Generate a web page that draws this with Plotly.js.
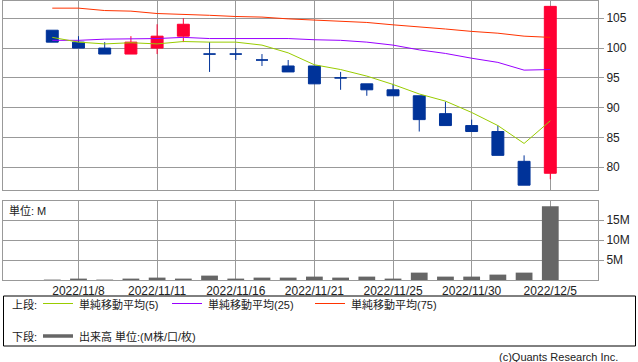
<!DOCTYPE html>
<html><head><meta charset="utf-8">
<script src="https://cdn.plot.ly/plotly-3.0.1.min.js"></script>
<style>html,body{margin:0;padding:0;background:#fff;}#chart{width:638px;height:362px;}</style>
</head><body><div id="chart"></div>
<script>
const dates = ['2022/11/7','2022/11/8','2022/11/9','2022/11/10','2022/11/11','2022/11/14','2022/11/15','2022/11/16','2022/11/17','2022/11/18','2022/11/21','2022/11/22','2022/11/24','2022/11/25','2022/11/28','2022/11/29','2022/11/30','2022/12/1','2022/12/2','2022/12/5'];
const openP  = [103,101,100, 99,100,102, 99, 99, 98, 97, 97, 95, 94, 93, 92, 89, 87, 86, 81, 79];
const highP  = [103,102,101,102,104,105,101,100, 99, 98, 97, 96, 94, 94, 92, 91, 88, 87, 82,107];
const lowP   = [101,100, 99, 99, 99,101, 96, 98, 97, 96, 94, 93, 92, 92, 86, 87, 86, 82, 77, 78];
const closeP = [101,100, 99,101,102,104, 99, 99, 98, 96, 94, 95, 93, 92, 88, 87, 86, 82, 77,107];
const ma5  = [101.8,101.0,100.7,100.9,100.7,101.1,101.0,101.0,100.5,99.2,97.2,96.4,95.3,93.9,92.3,91.1,89.2,87.0,84.0,87.8];
const ma25 = [101.3,101.3,101.5,101.5,101.6,101.8,101.6,101.6,101.6,101.6,101.4,101.3,101.0,100.5,99.7,99.1,98.3,97.6,96.3,96.4];
const ma75 = [106.7,106.7,106.3,106.2,105.8,105.7,105.5,105.3,105.2,104.9,104.7,104.5,104.3,103.9,103.6,103.2,102.8,102.5,102.0,101.8];
const volM = [0.1,0.35,0.1,0.35,0.6,0.35,1.1,0.35,0.6,0.6,0.85,0.6,0.85,0.35,1.85,0.85,0.85,1.35,1.85,18.5];
const labelDates = ['2022/11/8','2022/11/11','2022/11/16','2022/11/21','2022/11/25','2022/11/30','2022/12/5'];
const priceTicks = [80,85,90,95,100,105];
const volTicks = [5,10,15];
const volTickText = ['5M','10M','15M'];
const legendTop = ['単純移動平均(5)','単純移動平均(25)','単純移動平均(75)'];
const maColors = ['#99cc00','#9900ff','#ff3300'];

const W=638,H=362,L=3,R=40,T=1,B=82;
const px = x => (x-L)/(W-L-R);
const py = y => (H-B-y)/(H-T-B);
const grid = '#999999';
const FONT = 'Liberation Sans, Noto Sans CJK JP, sans-serif';

// split candles: up (close > open) in red, others (down / doji) in blue
function pick(arr, up){ return arr.map((v,i)=> ((closeP[i]>openP[i])===up) ? v : null); }
function candle(up, color){
  return {type:'candlestick', x:dates, open:pick(openP,up), high:pick(highP,up), low:pick(lowP,up), close:pick(closeP,up),
    xaxis:'x', yaxis:'y', whiskerwidth:0, hoverinfo:'skip',
    increasing:{line:{color:color,width:1}, fillcolor:color},
    decreasing:{line:{color:color,width:1}, fillcolor:color}};
}

const traces = [
  candle(true,'#ff0033'),
  candle(false,'#003399'),
  {type:'scatter', mode:'lines', x:dates, y:ma75, xaxis:'x', yaxis:'y', line:{color:maColors[2],width:1}},
  {type:'scatter', mode:'lines', x:dates, y:ma25, xaxis:'x', yaxis:'y', line:{color:maColors[1],width:1}},
  {type:'scatter', mode:'lines', x:dates, y:ma5, xaxis:'x', yaxis:'y', line:{color:maColors[0],width:1}},
  {type:'bar', x:dates, y:volM, xaxis:'x2', yaxis:'y2', width:0.64, marker:{color:'#666666', line:{width:0}}}
];

const xr = [-1.88, 20.82];
const baseX = {type:'category', range:xr, tickvals:labelDates, showgrid:true, gridcolor:grid, gridwidth:1,
  showline:true, linecolor:grid, linewidth:1, mirror:true, ticks:'', zeroline:false, fixedrange:true};
const baseY = {side:'right', showgrid:true, gridcolor:grid, gridwidth:1, showline:true, linecolor:grid, linewidth:1,
  mirror:true, ticks:'outside', ticklen:5, tickcolor:grid, zeroline:false, fixedrange:true,
  tickfont:{family:FONT,size:12,color:'#222'}};

const shapes = [
  {type:'rect', xref:'paper', yref:'paper', x0:px(3.5), x1:px(635.5), y0:py(296), y1:py(346), line:{color:'#000',width:1}},
];
const annotations = [];
function ann(text,x,y,anchor,size){
  annotations.push({text:text, xref:'paper', yref:'paper', x:px(x), y:py(y), xanchor:anchor||'left', yanchor:'middle',
    showarrow:false, borderpad:0, font:{family:FONT, size:size||11, color:'#222'}});
}
const lx = [[43,73,78],[172,202,207],[315,345,350]];
lx.forEach((p,i)=>{
  shapes.push({type:'line', xref:'paper', yref:'paper', x0:px(p[0]), x1:px(p[1]), y0:py(303.5), y1:py(303.5), line:{color:maColors[i],width:1}});
  ann(legendTop[i], p[2], 304);
});
shapes.push({type:'line', xref:'paper', yref:'paper', x0:px(43), x1:px(73), y0:py(336), y1:py(336), line:{color:'#666666',width:3.5}});
ann('上段:', 11, 304);
ann('下段:', 11, 336);
ann('出来高 単位:(M株/口/枚)', 78, 336);
ann('単位: M', 8, 210);
ann('(c)Quants Research Inc.', 619, 357, 'right', 11);

const layout = {
  width:W, height:H, margin:{l:L,r:R,t:T,b:B}, paper_bgcolor:'#fff', plot_bgcolor:'#fff',
  showlegend:false, font:{family:FONT,size:12,color:'#222'}, boxgap:0.35, boxmode:'overlay',
  xaxis: Object.assign({}, baseX, {anchor:'y', showticklabels:false, rangeslider:{visible:false}}),
  yaxis: Object.assign({}, baseY, {anchor:'x', domain:[py(190),1], range:[76.19,107.9], tickvals:priceTicks}),
  xaxis2: Object.assign({}, baseX, {anchor:'y2', showticklabels:true, tickfont:{family:FONT,size:12,color:'#222'}}),
  yaxis2: Object.assign({}, baseY, {anchor:'x2', domain:[0,py(201)], range:[0,19.8], tickvals:volTicks, ticktext:volTickText}),
  shapes:shapes, annotations:annotations, bargap:0.36
};
Plotly.newPlot('chart', traces, layout, {staticPlot:true, displayModeBar:false});
</script></body></html>
